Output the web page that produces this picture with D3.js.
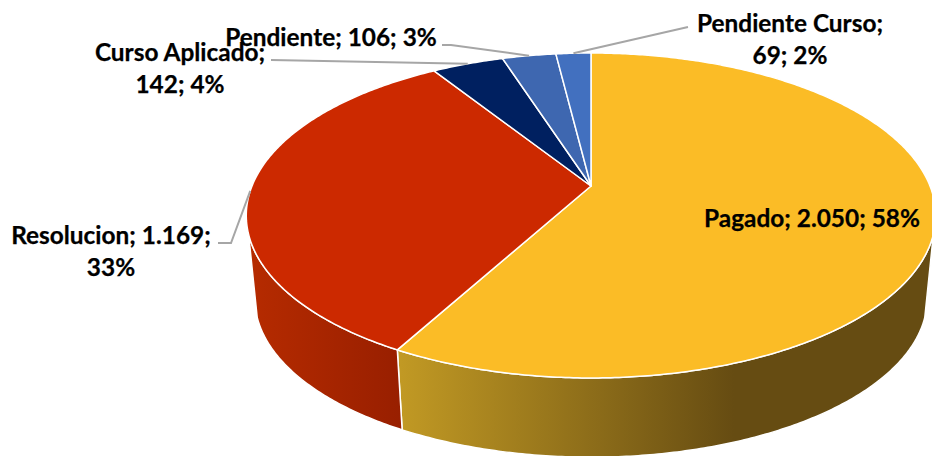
<!DOCTYPE html>
<html>
<head>
<meta charset="utf-8">
<script src="https://cdnjs.cloudflare.com/ajax/libs/d3/7.8.5/d3.min.js"></script>
<style>
  html, body { margin: 0; padding: 0; background: #fff; overflow: hidden; }
  svg { display: block; }
  text { font-family: Lato, "Noto Sans", sans-serif; font-weight: 700; font-size: 24.4px; fill: #000; stroke: #000; stroke-width: 0.25px; }
</style>
</head>
<body>
<svg id="chart" width="932" height="456"></svg>
<script>
var categories = ["Pagado", "Resolucion", "Curso Aplicado", "Pendiente", "Pendiente Curso"];
var values = [2050, 1169, 142, 106, 69];
var valueLabels = ["2.050", "1.169", "142", "106", "69"];
var percents = [58, 33, 4, 3, 2];
var topColors = ["#fbbc26", "#cc2900", "#002060", "#3e67b0", "#4270bf"];

// label lines (split as in the original) and leader start points
var labelLines = [
    ["Pagado; 2.050; 58%"],
    ["Resolucion; 1.169;", "33%"],
    ["Curso Aplicado;", "142; 4%"],
    ["Pendiente; 106; 3%"],
    ["Pendiente Curso;", "69; 2%"]
];
var labelPos = [
    { x: 812, y: 227 },
    { x: 111, y: 244 },
    { x: 180, y: 61 },
    { x: 331, y: 46 },
    { x: 790, y: 32 }
];
var leaderStart = [
    null,
    [[218, 243], [231, 243]],
    [[271, 60]],
    [[442, 45], [451, 45]],
    [[688, 27]]
];
var drawOrder = [0, 2, 1, 3, 4];

var svg = d3.select("#chart");

// perspective pie: unit circle on a tilted plane, apex is not the ellipse centre
var apexX = 591, apexY = 186;
var spanX = 339, spanY = 157.1, tilt = 0.1815;

function rim(a) {
    var u = Math.sin(a), v = -Math.cos(a), d = 1 - tilt * v;
    return [apexX + spanX * u / d, apexY + spanY * v / d];
}

// lower edge of the wall, slightly narrower since the walls converge
var wallScale = 0.975, wallVanish = 3549;
function lowerRim(a) {
    var p = rim(a);
    return [apexX + (p[0] - apexX) * wallScale, wallVanish + (p[1] - wallVanish) * wallScale];
}

function arcPoints(fn, a0, a1) {
    var n = Math.max(2, Math.ceil(Math.abs(a1 - a0) / 0.01));
    return d3.range(n + 1).map(function(i) { return fn(a0 + (a1 - a0) * i / n); });
}

var line = d3.line();
var slices = d3.pie().sort(null)(values);

var defs = svg.append("defs");
function wallGradient(id, x1, x2, stops) {
    var g = defs.append("linearGradient").attr("id", id)
        .attr("gradientUnits", "userSpaceOnUse")
        .attr("x1", x1).attr("x2", x2).attr("y1", 0).attr("y2", 0);
    stops.forEach(function(s) {
        g.append("stop").attr("offset", s[0]).attr("stop-color", s[1]);
    });
}
wallGradient("wall0", 397, 932, [[0, "#c29a24"], [0.63, "#664c12"], [1, "#664c12"]]);
wallGradient("wall1", 248, 402, [[0, "#b62b00"], [1, "#981f00"]]);

// only the front of the walls is visible, the silhouette runs straight
var frontStart = 107 * Math.PI / 180, frontEnd = 253 * Math.PI / 180;
var walls = slices.filter(function(d) { return d.startAngle < frontEnd && d.endAngle > frontStart; });

svg.append("g").selectAll("path")
    .data(walls)
    .join("path")
    .attr("d", function(d) {
        var a0 = Math.max(d.startAngle, frontStart), a1 = Math.min(d.endAngle, frontEnd);
        return line(arcPoints(rim, a0, a1).concat(arcPoints(lowerRim, a1, a0))) + "Z";
    })
    .attr("fill", function(d) { return "url(#wall" + d.index + ")"; })
    .attr("stroke", "#fff")
    .attr("stroke-width", 1.5)
    .attr("stroke-linejoin", "round");

svg.append("g").selectAll("path")
    .data(slices)
    .join("path")
    .attr("d", function(d) {
        return line([[apexX, apexY]].concat(arcPoints(rim, d.startAngle, d.endAngle))) + "Z";
    })
    .attr("fill", function(d) { return topColors[d.index]; })
    .attr("stroke", "#fff")
    .attr("stroke-width", 1.5)
    .attr("stroke-linejoin", "round");

// leaders end on the rim at the middle of their slice
svg.append("g").selectAll("path")
    .data(slices.filter(function(d) { return leaderStart[d.index]; }))
    .join("path")
    .attr("d", function(d) {
        return line(leaderStart[d.index].concat([rim((d.startAngle + d.endAngle) / 2)]));
    })
    .attr("fill", "none")
    .attr("stroke", "#a6a6a6")
    .attr("stroke-width", 2);

var labels = svg.append("g").selectAll("text")
    .data(drawOrder)
    .join("text")
    .attr("text-anchor", "middle")
    .attr("x", function(i) { return labelPos[i].x; })
    .attr("y", function(i) { return labelPos[i].y; });

labels.selectAll("tspan")
    .data(function(i) { return labelLines[i].map(function(t) { return { t: t, i: i }; }); })
    .join("tspan")
    .attr("x", function(d) { return labelPos[d.i].x; })
    .attr("dy", function(d, k) { return k ? 32 : 0; })
    .text(function(d) { return d.t; });
</script>
</body>
</html>
